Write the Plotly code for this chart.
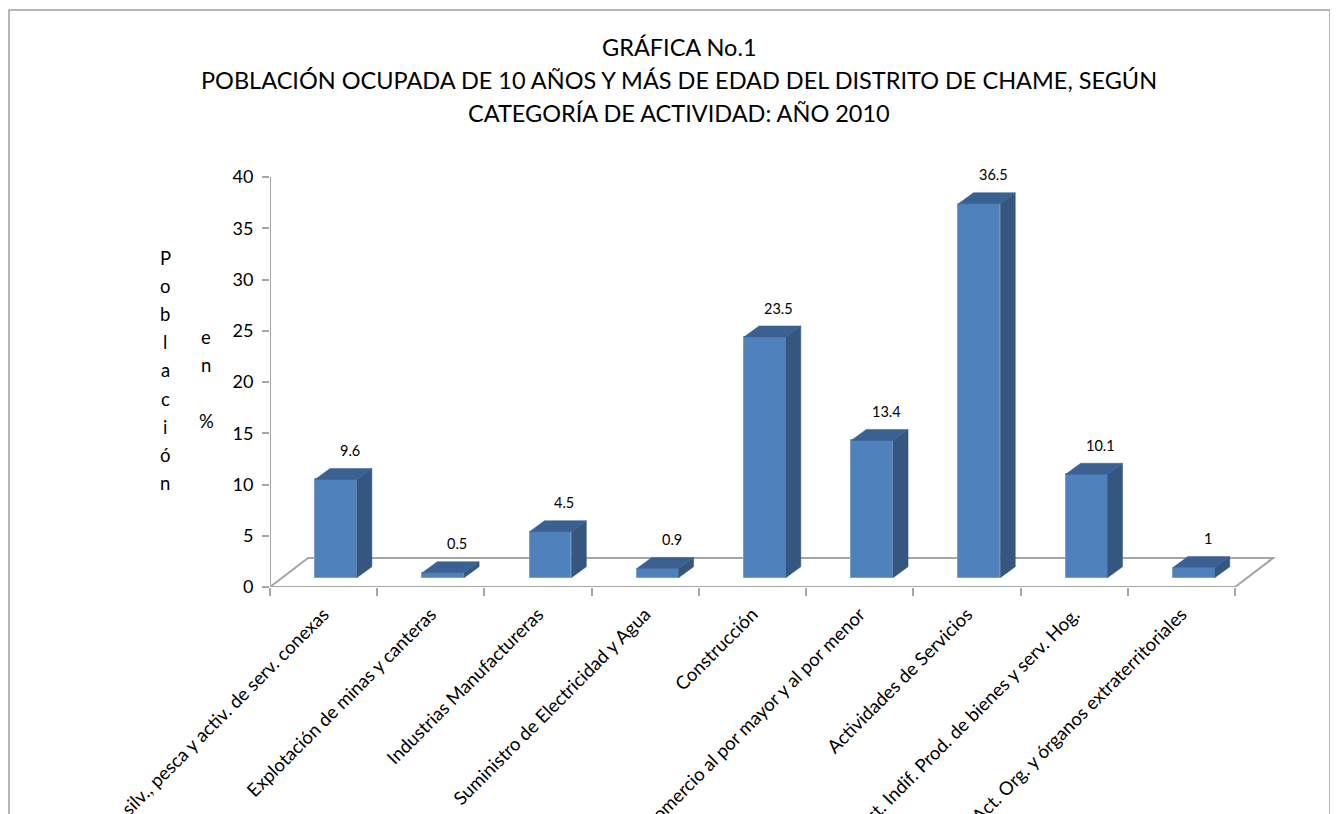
import plotly.graph_objects as go

# ---------------- data ----------------
categories = [
    "Agricultura, ganadería, caza, silv., pesca y activ. de serv. conexas",
    "Explotación de minas y canteras",
    "Industrias Manufactureras",
    "Suministro de Electricidad y Agua",
    "Construcción",
    "Comercio al por mayor y al por menor",
    "Actividades de Servicios",
    "Hogares con servicio doméstico y Act. Indif. Prod. de bienes y serv. Hog.",
    "Act. Org. y órganos extraterritoriales",
]
values = [9.6, 0.5, 4.5, 0.9, 23.5, 13.4, 36.5, 10.1, 1]
value_labels = ["9.6", "0.5", "4.5", "0.9", "23.5", "13.4", "36.5", "10.1", "1"]
y_ticks = [0, 5, 10, 15, 20, 25, 30, 35, 40]
title_lines = [
    "GRÁFICA No.1",
    "POBLACIÓN OCUPADA DE 10 AÑOS Y MÁS DE EDAD DEL DISTRITO DE CHAME, SEGÚN",
    "CATEGORÍA DE ACTIVIDAD: AÑO 2010",
]
ytitle_col1 = "Población"
ytitle_col2 = "en %"

# ---------------- style / geometry ----------------
W, H = 1338, 814
PAGE_OFF = 8          # page body margin of the html page
ML = 270 - PAGE_OFF
MT = 177 - PAGE_OFF
plot_w = 1008
plot_h = 410
MR = W - ML - plot_w
MB = H - MT - plot_h
FONT = "Lato"
FRONT = "#4F81BD"
SIDE = "#34567F"
TOP = "#3B6192"
GRID = "#A6A6A6"

X0, X1 = -0.5, 8.9
Y0, Y1 = 0, 40


def px_to_paper_x(px):
    return (px - PAGE_OFF - ML) / plot_w


def px_to_paper_y(py):
    return (MT + plot_h - (py - PAGE_OFF)) / plot_h


def data_to_paper_y(y):
    return (y - Y0) / (Y1 - Y0)


base_off = 0.9      # bars sit in the middle of the floor depth
bar_shift = 0.115   # front face centre offset from category centre
bar_w = 0.39
side_dx, side_dy = 0.14, 1.07
floor_dx, floor_dy = 0.355, 2.83

n = len(categories)
xs = list(range(n))

fig = go.Figure()

# side and top faces
for i, v in enumerate(values):
    xl = i + bar_shift - bar_w / 2
    xr = i + bar_shift + bar_w / 2
    top = base_off + v
    fig.add_trace(go.Scatter(
        x=[xr, xr + side_dx, xr + side_dx, xr, xr],
        y=[base_off, base_off + side_dy, top + side_dy, top, base_off],
        fill="toself", fillcolor=SIDE, mode="lines",
        line=dict(color=SIDE, width=0.5), hoverinfo="skip", showlegend=False))
    fig.add_trace(go.Scatter(
        x=[xl, xl + side_dx, xr + side_dx, xr, xl],
        y=[top, top + side_dy, top + side_dy, top, top],
        fill="toself", fillcolor=TOP, mode="lines",
        line=dict(color=TOP, width=0.5), hoverinfo="skip", showlegend=False))

# front faces
fig.add_trace(go.Bar(
    x=[i + bar_shift for i in xs], y=values, base=[base_off] * n, width=bar_w,
    marker=dict(color=FRONT, line=dict(color="#7A9FCC", width=1)),
    hoverinfo="skip", showlegend=False))

annotations = []
# value labels (x in data units, y through the axis' linear scale)
for i, (v, lab) in enumerate(zip(values, value_labels)):
    annotations.append(dict(
        text=lab, x=i + bar_shift + side_dx / 2 + 0.06,
        y=data_to_paper_y(v + base_off + 2.8),
        xref="x", yref="paper", xanchor="center", yanchor="middle", showarrow=False,
        font=dict(family=FONT, size=14.5, color="#000000")))

# floor (3D base) lines
xa, xb = X0, n - 0.5
floor_path = (f"M {xa},0 L {xb},0 L {xb + floor_dx},{floor_dy} "
              f"L {xa + floor_dx},{floor_dy} Z")
shapes = [
    dict(type="path", path=floor_path, xref="x", yref="y", layer="below",
         line=dict(color=GRID, width=2)),
    dict(type="line", xref="x", yref="y", x0=xa, x1=xa, y0=Y0, y1=Y1,
         line=dict(color=GRID, width=2), layer="below"),
    # outer frame of the chart
    dict(type="rect", xref="paper", yref="paper",
         x0=px_to_paper_x(9), x1=px_to_paper_x(1330),
         y0=px_to_paper_y(840), y1=px_to_paper_y(10),
         line=dict(color="#A0A0A0", width=1.5), layer="below"),
]

for txt, py in zip(title_lines, [47, 80, 113]):
    annotations.append(dict(
        text=txt, x=px_to_paper_x(679), y=px_to_paper_y(py), xref="paper", yref="paper",
        xanchor="center", yanchor="middle", showarrow=False,
        font=dict(family=FONT, size=23.5, color="#000000")))

# stacked vertical axis title
for j, ch in enumerate(ytitle_col1):
    annotations.append(dict(
        text=ch, x=px_to_paper_x(165), y=px_to_paper_y(258 + 28.1 * j),
        xref="paper", yref="paper", xanchor="center", yanchor="middle",
        showarrow=False, font=dict(family=FONT, size=18.5, color="#000000")))
for j, ch in enumerate(ytitle_col2):
    if ch == " ":
        continue
    annotations.append(dict(
        text=ch, x=px_to_paper_x(206), y=px_to_paper_y(337 + 28.1 * j),
        xref="paper", yref="paper", xanchor="center", yanchor="middle",
        showarrow=False, font=dict(family=FONT, size=18.5, color="#000000")))

fig.update_layout(
    width=W, height=H,
    margin=dict(l=ML, r=MR, t=MT, b=MB, autoexpand=False),
    paper_bgcolor="white", plot_bgcolor="rgba(0,0,0,0)",
    shapes=shapes, annotations=annotations,
    bargap=0,
    xaxis=dict(
        range=[X0, X1], tickmode="array", tickvals=xs, ticktext=categories,
        tickangle=-45, ticks="", showgrid=False, zeroline=False, showline=False,
        automargin=False, ticklabelstandoff=12, ticklabeloverflow="allow",
        tickfont=dict(family=FONT, size=18.5, color="#000000"),
        minor=dict(tickmode="array", tickvals=[i - 0.5 for i in range(n + 1)],
                   ticks="outside", ticklen=8, tickcolor=GRID, tickwidth=1.5,
                   showgrid=False),
    ),
    yaxis=dict(
        range=[Y0, Y1], tickmode="array", tickvals=y_ticks,
        ticktext=[str(t) for t in y_ticks],
        ticks="outside", ticklen=7, tickcolor=GRID, tickwidth=1.5,
        showgrid=False, zeroline=False, showline=False, automargin=False,
        ticklabelstandoff=5,
        tickfont=dict(family=FONT, size=18, color="#000000"),
    ),
)

fig.write_html("out.html")
